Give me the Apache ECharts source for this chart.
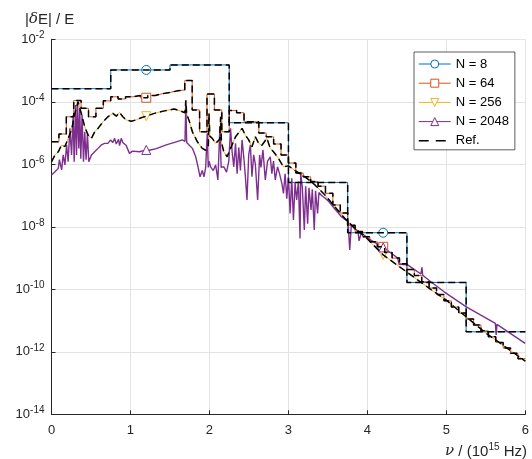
<!DOCTYPE html>
<html>
<head>
<meta charset="utf-8">
<script src="https://cdn.jsdelivr.net/npm/echarts@6/dist/echarts.min.js"></script>
<style>
  html, body { margin: 0; padding: 0; background: #fff; }
  #chart { width: 532px; height: 459px; }
</style>
</head>
<body>
<div id="chart"></div>
<script>
  // all values are log10(|dE|/E)
  const xTicks = [0, 1, 2, 3, 4, 5, 6]
  const markX = [1.2, 4.2]

  // N = 8 : one value per bin, bins are 6/8 wide
  const n8 = [-3.58, -2.98, -2.82, -4.67, -6.58, -8.19, -9.78, -11.36]

  // N = 64 : one value per bin, bins are 6/64 wide
  const n64 = [
    -5.28, -5.03, -4.48, -3.96, -4.21, -4.48, -4.21, -3.97,
    -3.84, -3.91, -3.84, -3.80, -3.87, -3.80, -3.74, -3.70,
    -3.65, -3.62, -3.32, -4.26, -4.96, -3.75, -4.26, -4.96,
    -4.28, -4.35, -4.64, -4.64, -5.00, -5.12, -5.35, -5.70,
    -5.96, -6.28, -6.40, -6.55, -6.70, -6.93, -7.30, -7.56,
    -7.95, -8.15, -8.32, -8.48, -8.64, -8.82, -9.00, -9.18,
    -9.37, -9.56, -9.76, -9.96, -10.17, -10.37, -10.57, -10.76,
    -10.95, -11.14, -11.33, -11.52, -11.70, -11.88, -12.05, -12.22
  ]

  // N = 256 : [nu, value]
  const n256 = [
    [0, -5.92], [0.044, -5.70], [0.086, -5.60], [0.128, -5.38], [0.170, -5.43],
    [0.211, -5.17], [0.254, -4.90], [0.296, -4.37], [0.337, -4.00], [0.380, -4.40],
    [0.421, -4.80], [0.463, -5.06], [0.506, -5.17], [0.547, -4.96], [0.589, -4.85],
    [0.652, -4.64], [0.714, -4.48], [0.777, -4.37], [0.820, -4.46], [0.862, -4.34],
    [0.903, -4.48], [0.946, -4.58], [1.009, -4.62], [1.072, -4.58], [1.135, -4.51],
    [1.2, -4.46], [1.302, -4.37], [1.428, -4.29], [1.553, -4.23], [1.638, -4.30],
    [1.690, -4.35], [1.701, -3.95], [1.712, -4.40], [1.742, -4.60], [1.784, -4.96],
    [1.847, -5.28], [1.909, -5.49], [1.952, -5.55], [1.985, -5.40], [1.994, -4.37],
    [2.005, -5.10], [2.036, -5.17], [2.078, -5.33], [2.130, -5.20], [2.141, -4.48],
    [2.152, -5.30], [2.182, -5.60], [2.224, -5.76], [2.267, -5.49], [2.330, -5.12],
    [2.413, -4.85], [2.455, -5.07], [2.497, -5.22], [2.538, -5.44], [2.581, -5.12],
    [2.623, -5.33], [2.664, -5.39], [2.727, -5.17], [2.770, -5.49], [2.811, -5.60],
    [2.874, -5.81], [2.937, -6.08], [3.0, -6.05], [3.084, -6.20], [3.210, -6.40],
    [3.336, -6.66], [3.462, -6.98], [3.587, -7.36], [3.713, -7.73], [3.839, -8.05],
    [3.965, -8.30], [4.2, -8.90], [4.5, -9.45], [4.8, -10.00], [5.0, -10.35],
    [5.25, -10.88], [5.5, -11.40], [5.75, -11.85], [6.0, -12.30]
  ]

  // N = 2048 : [nu, value]
  const n2048 = [
    [0, -6.34], [0.044, -6.24], [0.086, -6.13], [0.100, -5.85], [0.128, -6.18],
    [0.148, -5.70], [0.170, -6.02], [0.191, -5.38], [0.211, -5.92], [0.233, -4.85],
    [0.254, -5.70], [0.274, -4.42], [0.287, -5.92], [0.304, -4.10], [0.317, -5.70],
    [0.330, -4.00], [0.346, -5.49], [0.358, -4.21], [0.371, -5.82], [0.387, -4.42],
    [0.405, -5.92], [0.421, -4.96], [0.438, -5.85], [0.455, -5.00], [0.472, -5.92],
    [0.506, -5.70], [0.547, -5.60], [0.589, -5.49], [0.631, -5.38], [0.673, -5.33],
    [0.714, -5.33], [0.748, -5.22], [0.777, -5.30], [0.799, -5.17], [0.820, -5.35],
    [0.849, -5.20], [0.862, -5.40], [0.883, -5.17], [0.903, -5.30], [0.946, -5.40],
    [0.987, -5.65], [1.025, -5.58], [1.113, -5.60], [1.2, -5.54], [1.239, -5.55],
    [1.327, -5.50], [1.453, -5.38], [1.579, -5.28], [1.658, -5.22], [1.690, -5.27],
    [1.701, -4.05], [1.712, -5.30], [1.742, -5.38], [1.784, -5.49], [1.826, -5.76],
    [1.855, -6.08], [1.881, -6.40], [1.909, -6.20], [1.931, -6.40], [1.952, -6.10],
    [1.972, -5.01], [1.985, -6.10], [1.994, -5.90], [2.015, -6.08], [2.048, -6.20],
    [2.078, -6.02], [2.107, -6.50], [2.132, -4.80], [2.148, -6.10], [2.182, -6.08],
    [2.216, -6.25], [2.245, -5.90], [2.267, -4.85], [2.287, -5.60], [2.308, -6.08],
    [2.330, -5.33], [2.350, -6.30], [2.371, -5.46], [2.392, -6.20], [2.413, -5.22],
    [2.434, -5.76], [2.455, -6.40], [2.475, -7.14], [2.497, -5.70], [2.518, -5.38],
    [2.538, -6.40], [2.560, -5.70], [2.581, -6.00], [2.610, -7.14], [2.635, -5.70],
    [2.652, -6.10], [2.677, -5.54], [2.707, -6.50], [2.736, -5.90], [2.770, -5.76],
    [2.790, -6.30], [2.811, -5.90], [2.833, -6.50], [2.862, -6.08], [2.887, -6.30],
    [2.916, -6.60], [2.937, -6.93], [2.958, -6.30], [2.979, -7.10], [3.000, -6.40],
    [3.021, -7.57], [3.042, -6.45], [3.063, -7.78], [3.084, -6.60], [3.104, -7.14],
    [3.126, -6.55], [3.147, -8.37], [3.155, -6.29], [3.176, -6.75], [3.201, -8.10],
    [3.218, -6.70], [3.243, -7.90], [3.260, -6.75], [3.286, -7.46], [3.302, -6.80],
    [3.327, -8.10], [3.343, -6.85], [3.369, -7.57], [3.386, -6.90], [3.419, -7.00],
    [3.462, -7.08], [3.503, -7.17], [3.545, -7.30], [3.587, -7.43], [3.629, -7.55],
    [3.670, -7.68], [3.713, -7.76], [3.755, -7.84], [3.776, -8.74], [3.796, -7.95],
    [3.839, -8.05], [3.881, -8.14], [3.894, -8.45], [3.922, -8.20], [3.965, -8.28],
    [4.006, -8.37], [4.2, -8.66], [4.384, -9.00], [4.400, -9.20], [4.509, -9.22],
    [4.677, -9.51], [4.690, -9.30], [4.700, -9.55], [4.803, -9.76], [4.971, -10.08],
    [5.252, -10.56], [5.620, -11.09], [5.630, -11.46], [5.640, -11.12], [5.997, -11.73]
  ]

  const c8 = '#0072BD'
  const c64 = '#D95319'
  const c256 = '#EDB120'
  const c2048 = '#7E2F8E'

  function stepData(vals, plain) {
    const w = 6 / vals.length
    const out = []
    vals.forEach((v, k) => {
      out.push({ value: [k * w, Math.pow(10, v)], symbol: 'none' })
      if (!plain) {
        markX.forEach(m => {
          if (m > k * w && m < (k + 1) * w) out.push({ value: [m, Math.pow(10, v)] })
        })
      }
    })
    out.push({ value: [6, Math.pow(10, vals[vals.length - 1])], symbol: 'none' })
    return out
  }

  function lineData(pts, plain) {
    return pts.map(p => {
      const item = { value: [p[0], Math.pow(10, p[1])] }
      if (plain || markX.indexOf(p[0]) < 0) item.symbol = 'none'
      return item
    })
  }

  function nSeries(name, color, symbol, rotate, data, isStep) {
    return {
      name: name,
      type: 'line',
      step: isStep ? 'end' : false,
      data: data,
      symbol: symbol,
      symbolSize: 9,
      symbolRotate: rotate,
      showSymbol: true,
      color: color,
      lineStyle: { color: color, width: name === 'N = 2048' ? 1.4 : 1 },
      itemStyle: { color: '#fff', borderColor: color, borderWidth: 1 },
      emphasis: { disabled: true },
      z: 2
    }
  }

  function refSeries(data, isStep) {
    return {
      name: 'Ref.',
      type: 'line',
      step: isStep ? 'end' : false,
      data: data,
      symbol: 'none',
      color: '#000',
      lineStyle: { color: '#000', width: 1.5, type: [7, 4] },
      emphasis: { disabled: true },
      z: 3
    }
  }

  const chart = echarts.init(document.getElementById('chart'))
  const txt = '#262626'
  const font = 'Liberation Sans, Arial, sans-serif'

  chart.setOption({
    animation: false,
    textStyle: { fontFamily: font },
    grid: { left: 51.5, right: 3.5, top: 39.3, bottom: 44.7 },
    legend: {
      orient: 'vertical',
      left: 414,
      top: 52,
      itemWidth: 32,
      itemHeight: 10,
      itemGap: 6.2,
      padding: [5.5, 6, 2.5, 4],
      backgroundColor: '#fff',
      borderColor: '#333',
      borderWidth: 0.8,
      borderRadius: 0,
      itemStyle: { borderWidth: 1 },
      lineStyle: { width: 1 },
      textStyle: { fontSize: 13, color: '#000', fontFamily: font },
      data: [
        'N = 8', 'N = 64', 'N = 256', 'N = 2048',
        { name: 'Ref.', itemStyle: { opacity: 0 }, lineStyle: { width: 1.5, type: [10, 7] } }
      ]
    },
    xAxis: {
      type: 'value',
      min: xTicks[0],
      max: xTicks[xTicks.length - 1],
      interval: 1,
      axisLine: { lineStyle: { color: txt, width: 1 } },
      axisTick: { inside: true, length: 4, lineStyle: { color: txt } },
      axisLabel: { color: txt, fontSize: 13, margin: 10 },
      splitLine: { show: true, lineStyle: { color: '#e3e3e3', width: 1 } }
    },
    yAxis: {
      type: 'log',
      logBase: 10,
      min: 1e-14,
      max: 1e-2,
      interval: 2,
      splitNumber: 6,
      axisLine: { show: true, lineStyle: { color: txt, width: 1 } },
      axisTick: { show: true, inside: true, length: 4, lineStyle: { color: txt } },
      axisLabel: {
        color: txt,
        margin: 7,
        formatter: v => '10{s|' + Math.round(Math.log10(v)) + '}',
        rich: {
          s: { fontSize: 10, padding: [0, 0, 8, 0], color: txt }
        },
        fontSize: 13
      },
      splitLine: { show: true, lineStyle: { color: '#e3e3e3', width: 1 } }
    },
    graphic: [
      {
        type: 'text',
        left: 25,
        top: 12,
        style: {
          text: '|{i|δ}E| / E',
          fill: txt,
          font: '15px ' + font,
          rich: { i: { fontStyle: 'italic', fontFamily: 'DejaVu Serif', fontSize: 15, fill: txt } }
        }
      },
      {
        type: 'text',
        right: 5,
        top: 442,
        style: {
          text: '{i|ν} / (10{s|15} Hz)',
          fill: txt,
          font: '15px ' + font,
          rich: {
            i: { fontStyle: 'italic', fontFamily: 'DejaVu Serif', fontSize: 15, fill: txt },
            s: { fontSize: 10, padding: [0, 0, 9, 0], fill: txt }
          }
        }
      }
    ],
    series: [
      nSeries('N = 8', c8, 'circle', 0, stepData(n8), true),
      refSeries(stepData(n8, true), true),
      nSeries('N = 64', c64, 'rect', 0, stepData(n64), true),
      refSeries(stepData(n64, true), true),
      nSeries('N = 256', c256, 'triangle', 180, lineData(n256), false),
      refSeries(lineData(n256, true), false),
      nSeries('N = 2048', c2048, 'triangle', 0, lineData(n2048), false)
    ]
  })
</script>
</body>
</html>
